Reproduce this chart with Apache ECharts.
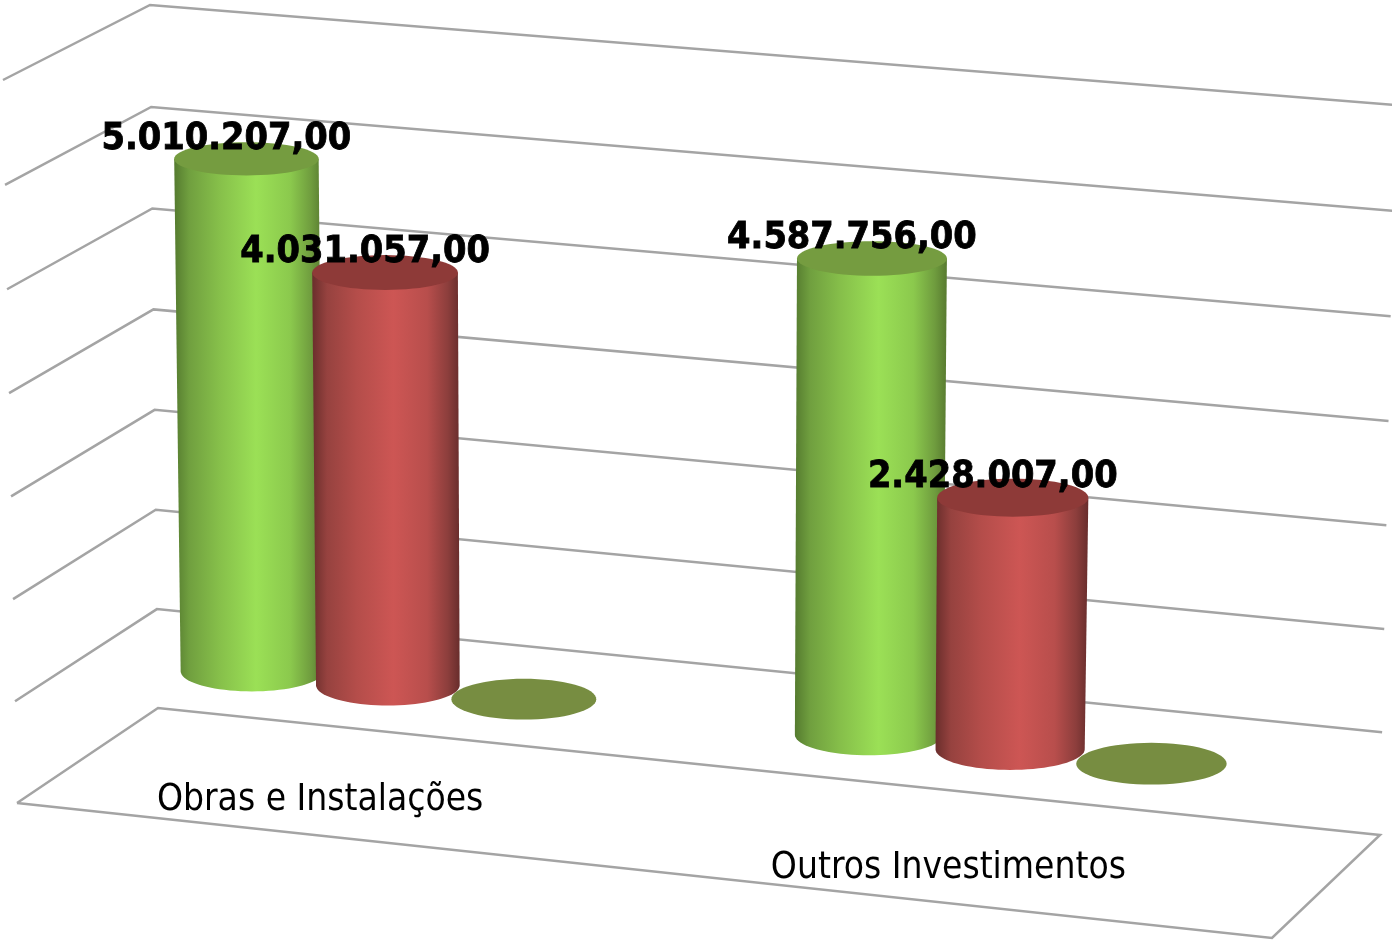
<!DOCTYPE html>
<html>
<head>
<meta charset="utf-8">
<script src="https://cdn.jsdelivr.net/npm/echarts@6/dist/echarts.min.js"></script>
<style>html,body{margin:0;background:#fff}#chart{width:1392px;height:941px}</style>
</head>
<body>
<div id="chart"></div>
<script>
const categories = ['Obras e Instalações', 'Outros Investimentos'];
const greenValues = [5010207, 4587756];
const redValues = [4031057, 2428007];
const oliveValues = [0, 0];
const levels = [-1000000, 0, 1000000, 2000000, 3000000, 4000000, 5000000, 6000000];

const W = 1392, H = 941;
const FONT = '"DejaVu Sans Condensed", "DejaVu Sans", sans-serif';
const LINE = '#a4a4a4';

// corners of the 3d box as they land on the picture: [back/front][left/right][bottom/top]
const BOX = {
  bl0: [158, 708], bl1: [150, 5], br0: [1380, 835], br1: [1395, 105],
  fl0: [17, 803], fl1: [3, 80], fr0: [1272, 938], fr1: [1285, 196]
};
const mix = (a, b, t) => a + (b - a) * t;

// u: along the categories, v: up the value axis, d: 0 back wall, 1 front edge
function project(u, v, d) {
  const w = v - 0.018 * v * (1 - v); // slight foreshortening of the height
  const pick = i => {
    const back = mix(mix(BOX.bl0[i], BOX.br0[i], u), mix(BOX.bl1[i], BOX.br1[i], u), w);
    const front = mix(mix(BOX.fl0[i], BOX.fr0[i], u), mix(BOX.fl1[i], BOX.fr1[i], u), w);
    return mix(back, front, d);
  };
  return [pick(0), pick(1)];
}
const toU = px => px / W;
const toV = py => (H - py) / H;

function ellipsePoints(cx, cy, rx, ry, from, to, n) {
  const pts = [];
  for (let i = 0; i <= n; i++) {
    const t = from + (to - from) * i / n;
    pts.push([cx + rx * Math.cos(t), cy + ry * Math.sin(t)]);
  }
  return pts;
}

const BAR_DEPTH = 0.49;
const radiusX = u => 70.5 + 5.5 * u;
const radiusY = y => 15.5 + y * 0.007;

// place of a bar inside its category, in bands: spacing opens up a bit to the right
const barStep = [0.219, 0.2276];
const barShift = [-0.016, -0.0137];
function barU(api, cat, slot) {
  const band = api.size([1, 0])[0];
  return toU(api.coord([cat, 0])[0] + (barShift[cat] + slot * barStep[cat]) * band);
}

function gradient(stops) {
  return new echarts.graphic.LinearGradient(0, 0, 1, 0,
    stops.map(s => ({ offset: s[0], color: s[1] })));
}

const greenBody = [[0, '#557b2f'], [0.1, '#709f3f'], [0.3, '#86bf4a'], [0.55, '#9be056'], [0.78, '#8bc94d'], [0.92, '#6f9c3e'], [1, '#587a30']];
const redBody = [[0, '#6a2e2c'], [0.1, '#96423f'], [0.3, '#b44d4a'], [0.55, '#cd5654'], [0.78, '#b84e4c'], [0.92, '#8c3e3c'], [1, '#682d2c']];

function cylinder(slot, body, topColor) {
  return function (params, api) {
    const cat = api.value(0);
    const val = api.value(1);
    const u = barU(api, cat, slot);
    const base = project(u, toV(api.coord([cat, 0])[1]), BAR_DEPTH);
    const top = project(u, toV(api.coord([cat, val])[1]), BAR_DEPTH);
    const rx = radiusX(u);
    if (val === 0) {
      return {
        type: 'polygon',
        shape: { points: ellipsePoints(base[0], base[1], rx, radiusY(base[1]), 0, Math.PI * 2, 64) },
        style: { fill: topColor }
      };
    }
    const rim = ellipsePoints(base[0], base[1], rx, radiusY(base[1]), 0, Math.PI, 40);
    const side = [[top[0] - rx - 1, top[1]], [top[0] + rx + 1, top[1]]].concat(rim);
    return {
      type: 'group',
      children: [
        { type: 'polygon', shape: { points: side }, style: { fill: gradient(body) } },
        {
          type: 'polygon',
          shape: { points: ellipsePoints(top[0], top[1], rx + 1, radiusY(top[1]), 0, Math.PI * 2, 64) },
          style: { fill: topColor }
        }
      ]
    };
  };
}

function valueLabel(slot) {
  return function (params, api) {
    const cat = api.value(0);
    const val = api.value(1);
    const u = barU(api, cat, slot);
    const top = project(u, toV(api.coord([cat, val])[1]), BAR_DEPTH);
    return {
      type: 'text',
      z2: 100,
      style: {
        x: top[0] - 20,
        y: top[1] - 20,
        text: val.toLocaleString('de-DE', { minimumFractionDigits: 2 }),
        font: 'bold 37.5px ' + FONT,
        fill: '#000',
        stroke: '#000',
        lineWidth: 0.8,
        textAlign: 'center',
        textVerticalAlign: 'middle'
      }
    };
  };
}

function wallLine(params, api) {
  const v = toV(api.coord([0, api.value(1)])[1]);
  const pts = [project(0, v, 1), project(0, v, 0), project(1, v, 0)];
  if (params.dataIndex === 0) pts.push(project(1, v, 1), project(0, v, 1));
  return {
    type: 'polyline',
    shape: { points: pts },
    style: { fill: null, stroke: LINE, lineWidth: 2.5 }
  };
}

function categoryLabel(params, api) {
  const cat = api.value(0);
  const c = api.coord([cat, levels[0]]);
  const u = toU(c[0]);
  const p = project(u, toV(c[1]), 0.5);
  return {
    type: 'text',
    style: {
      x: p[0] - 81.5 + 18 * u,
      y: p[1] + 11.5 + 4 * u,
      text: categories[cat],
      font: '36.8px ' + FONT,
      fill: '#000',
      textAlign: 'center',
      textVerticalAlign: 'middle'
    }
  };
}

const pairs = vals => vals.map((v, i) => [i, v]);

const barSeries = [
  [greenValues, -1, greenBody, '#759c40'],
  [redValues, 0, redBody, '#8e3a38'],
  [oliveValues, 1, null, '#778d41']
];

const series = [
  {
    type: 'custom', coordinateSystem: 'cartesian2d', silent: true, z: 1,
    encode: { x: 0, y: 1 }, clip: false,
    data: levels.map(l => [0, l]), renderItem: wallLine
  }
];
barSeries.forEach((b, i) => {
  series.push({
    type: 'custom', coordinateSystem: 'cartesian2d', silent: true, z: 2 + i,
    encode: { x: 0, y: 1 }, clip: false,
    data: pairs(b[0]), renderItem: cylinder(b[1], b[2], b[3])
  });
});
barSeries.slice(0, 2).forEach(b => {
  series.push({
    type: 'custom', coordinateSystem: 'cartesian2d', silent: true, z: 10,
    encode: { x: 0, y: 1 }, clip: false,
    data: pairs(b[0]), renderItem: valueLabel(b[1])
  });
});
series.push({
  type: 'custom', coordinateSystem: 'cartesian2d', silent: true, z: 10,
  encode: { x: 0, y: 1 }, clip: false,
  data: categories.map((c, i) => [i, levels[0]]), renderItem: categoryLabel
});

const myChart = echarts.init(document.getElementById('chart'));
myChart.setOption({
  animation: false,
  backgroundColor: '#fff',
  grid: { left: 0, right: 0, top: 0, bottom: 0 },
  xAxis: { type: 'category', data: categories, show: false },
  yAxis: { type: 'value', min: -1000000, max: 6000000, interval: 1000000, show: false },
  series
});
</script>
</body>
</html>
